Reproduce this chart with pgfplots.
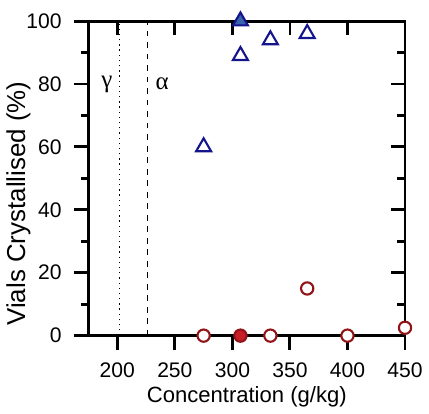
\documentclass[border=0pt]{standalone}
\usepackage{fontspec}
\setmainfont{Liberation Sans}
\newfontfamily\greekfont{Liberation Serif}
\usepackage{pgfplots}
\pgfplotsset{compat=1.18}

\definecolor{triedge}{RGB}{20,20,140}
\definecolor{trifill}{RGB}{55,100,170}
\definecolor{ciredge}{RGB}{145,20,25}
\definecolor{cirfill}{RGB}{200,30,40}

\pgfplotsset{
  common/.style={
    scale only axis, width=165pt, height=164pt,
    xmin=175, xmax=450, ymin=0, ymax=100,
    xtick={200,250,...,450}, ytick={0,20,...,100},
    minor y tick num=1,
    axis line style={line width=1.5pt},
    major tick style={line width=1.5pt, black},
    minor tick style={line width=1.5pt, black},
    major tick length=7.5pt, minor tick length=4pt,
    clip=false,
  }
}

\begin{document}
\begin{tikzpicture}
% inward ticks on top and right
\begin{axis}[common,
  tick align=inside, xtick pos=right, ytick pos=right,
  xticklabels={}, yticklabels={},
  every tick label/.append style={overlay},
]
\end{axis}
\begin{axis}[common, name=main,
  tick align=outside, xtick pos=left, ytick pos=left,
  ticklabel style={font=\fontsize{11}{12}\selectfont},
  xticklabel style={yshift=-3pt}, yticklabel style={xshift=-3pt},
  /pgf/number format/assume math mode=true,
  xlabel={Concentration (g/kg)}, ylabel={Vials Crystallised (\%)},
  xlabel style={font=\fontsize{11.5}{13}\selectfont, yshift=2pt},
  ylabel style={font=\fontsize{13.5}{15}\selectfont, at={(ticklabel cs:0.42)}, yshift=-9pt},
]
\addplot[black, dotted, line width=0.7pt] coordinates {(202,0) (202,100)};
\addplot[black, dashed, line width=0.7pt] coordinates {(226.5,0) (226.5,100)};
\node[font=\greekfont\fontsize{13}{14}\selectfont] at (axis cs:191,80) {γ};
\node[font=\greekfont\fontsize{13}{14}\selectfont] at (axis cs:239,80) {α};

% open triangles
\addplot[only marks, mark=triangle, mark size=4.5pt,
  mark options={draw=triedge, fill=white, line width=1.1pt}]
  coordinates {(275,60) (307,89) (333,94) (365,96)};
% filled triangle
\addplot[only marks, mark=triangle*, mark size=4.5pt,
  mark options={draw=triedge, fill=trifill, line width=1.1pt}]
  coordinates {(307,100)};
% open circles
\addplot[only marks, mark=*, mark size=3.2pt,
  mark options={draw=ciredge, fill=white, line width=1.1pt}]
  coordinates {(275,0) (333,0) (365,15) (400,0) (450,2.5)};
% filled circle
\addplot[only marks, mark=*, mark size=3.2pt,
  mark options={draw=ciredge, fill=cirfill, line width=1.1pt}]
  coordinates {(307,0)};
\end{axis}
\path (main.north) ++(0,11pt);
\end{tikzpicture}
\end{document}
